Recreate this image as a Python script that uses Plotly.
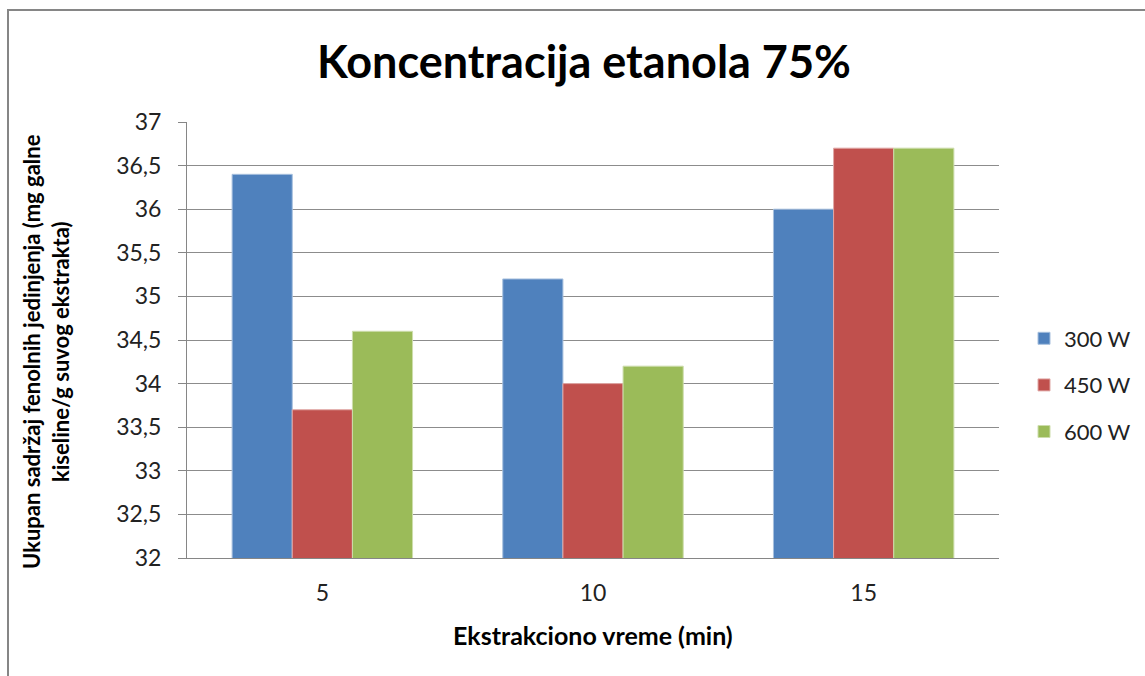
import plotly.graph_objects as go

# Extraction time categories (min)
categories = ["5", "10", "15"]

# Total phenolic content per microwave power level
series_names = ["300 W", "450 W", "600 W"]
values_300 = [36.4, 35.2, 36.0]
values_450 = [33.7, 34.0, 36.7]
values_600 = [34.6, 34.2, 36.7]

y_ticks = [32, 32.5, 33, 33.5, 34, 34.5, 35, 35.5, 36, 36.5, 37]

colors = ["#4F81BD", "#C0504D", "#9BBB59"]
edge_colors = ["#A7C0DE", "#E0A8A6", "#CDDDAC"]

FONT = "Lato"
W, H = 1145, 676
L, R, T, B = 187, 146, 122, 118
PW, PH = W - L - R, H - T - B

fig = go.Figure()
for i, (name, vals) in enumerate(zip(series_names, [values_300, values_450, values_600])):
    fig.add_trace(go.Bar(
        x=categories, y=vals, name=name,
        marker=dict(color=colors[i], line=dict(color=edge_colors[i], width=1)),
        legendgroup=name,
    ))

def px_to_paper_x(px):
    return (px - L) / PW

def px_to_paper_y(py):
    return (H - B - py) / PH

# Outer chart frame (left and top edges visible)
frame = dict(color="#868686", width=2)
fig.add_shape(type="line", xref="paper", yref="paper",
              x0=px_to_paper_x(8), x1=px_to_paper_x(8),
              y0=px_to_paper_y(10), y1=px_to_paper_y(H + 5), line=frame)
fig.add_shape(type="line", xref="paper", yref="paper",
              x0=px_to_paper_x(7), x1=px_to_paper_x(W + 5),
              y0=px_to_paper_y(10), y1=px_to_paper_y(10), line=frame)

# Axis titles
fig.add_annotation(
    text="<b>Ukupan sadržaj fenolnih jedinjenja (mg galne<br>kiseline/g suvog ekstrakta)</b>",
    xref="paper", yref="paper", x=px_to_paper_x(46), y=px_to_paper_y(352),
    xanchor="center", yanchor="middle", textangle=-90, showarrow=False,
    font=dict(size=22, family=FONT, color="black"), align="center",
)
fig.add_annotation(
    text="<b>Ekstrakciono vreme (min)</b>",
    xref="paper", yref="paper", x=px_to_paper_x(593), y=px_to_paper_y(635),
    xanchor="center", yanchor="middle", showarrow=False,
    font=dict(size=25, family=FONT, color="black"),
)

fig.update_layout(
    width=W, height=H,
    margin=dict(l=L, r=R, t=T, b=B, autoexpand=False),
    paper_bgcolor="white", plot_bgcolor="white",
    separators=", ",
    barmode="group", bargap=1 / 3, bargroupgap=0,
    font=dict(family=FONT, color="#222222"),
    title=dict(text="<b>Koncentracija etanola 75%</b>",
               x=584 / W, xanchor="center", y=1 - 62 / H, yanchor="middle",
               font=dict(size=45, family=FONT, color="black")),
    xaxis=dict(
        type="category", showgrid=False, showline=True, linecolor="#868686", linewidth=1,
        ticks="", ticklabelstandoff=14,
        tickfont=dict(size=23, family=FONT, color="#222222"),
    ),
    yaxis=dict(
        range=[32, 37], tickvals=y_ticks, tickformat=",.1~f",
        showgrid=True, gridcolor="#8C8C8C", gridwidth=1,
        showline=True, linecolor="#868686", linewidth=1,
        ticks="outside", ticklen=8, tickcolor="#868686", ticklabelstandoff=12,
        tickfont=dict(size=23, family=FONT, color="#222222"),
        zeroline=False,
    ),
    legend=dict(
        x=px_to_paper_x(1024), xanchor="left", y=px_to_paper_y(385), yanchor="middle",
        font=dict(size=22, family=FONT, color="#222222"),
        tracegroupgap=15, bgcolor="rgba(0,0,0,0)", itemwidth=30,
    ),
    showlegend=True,
)

fig.write_html("out.html")
